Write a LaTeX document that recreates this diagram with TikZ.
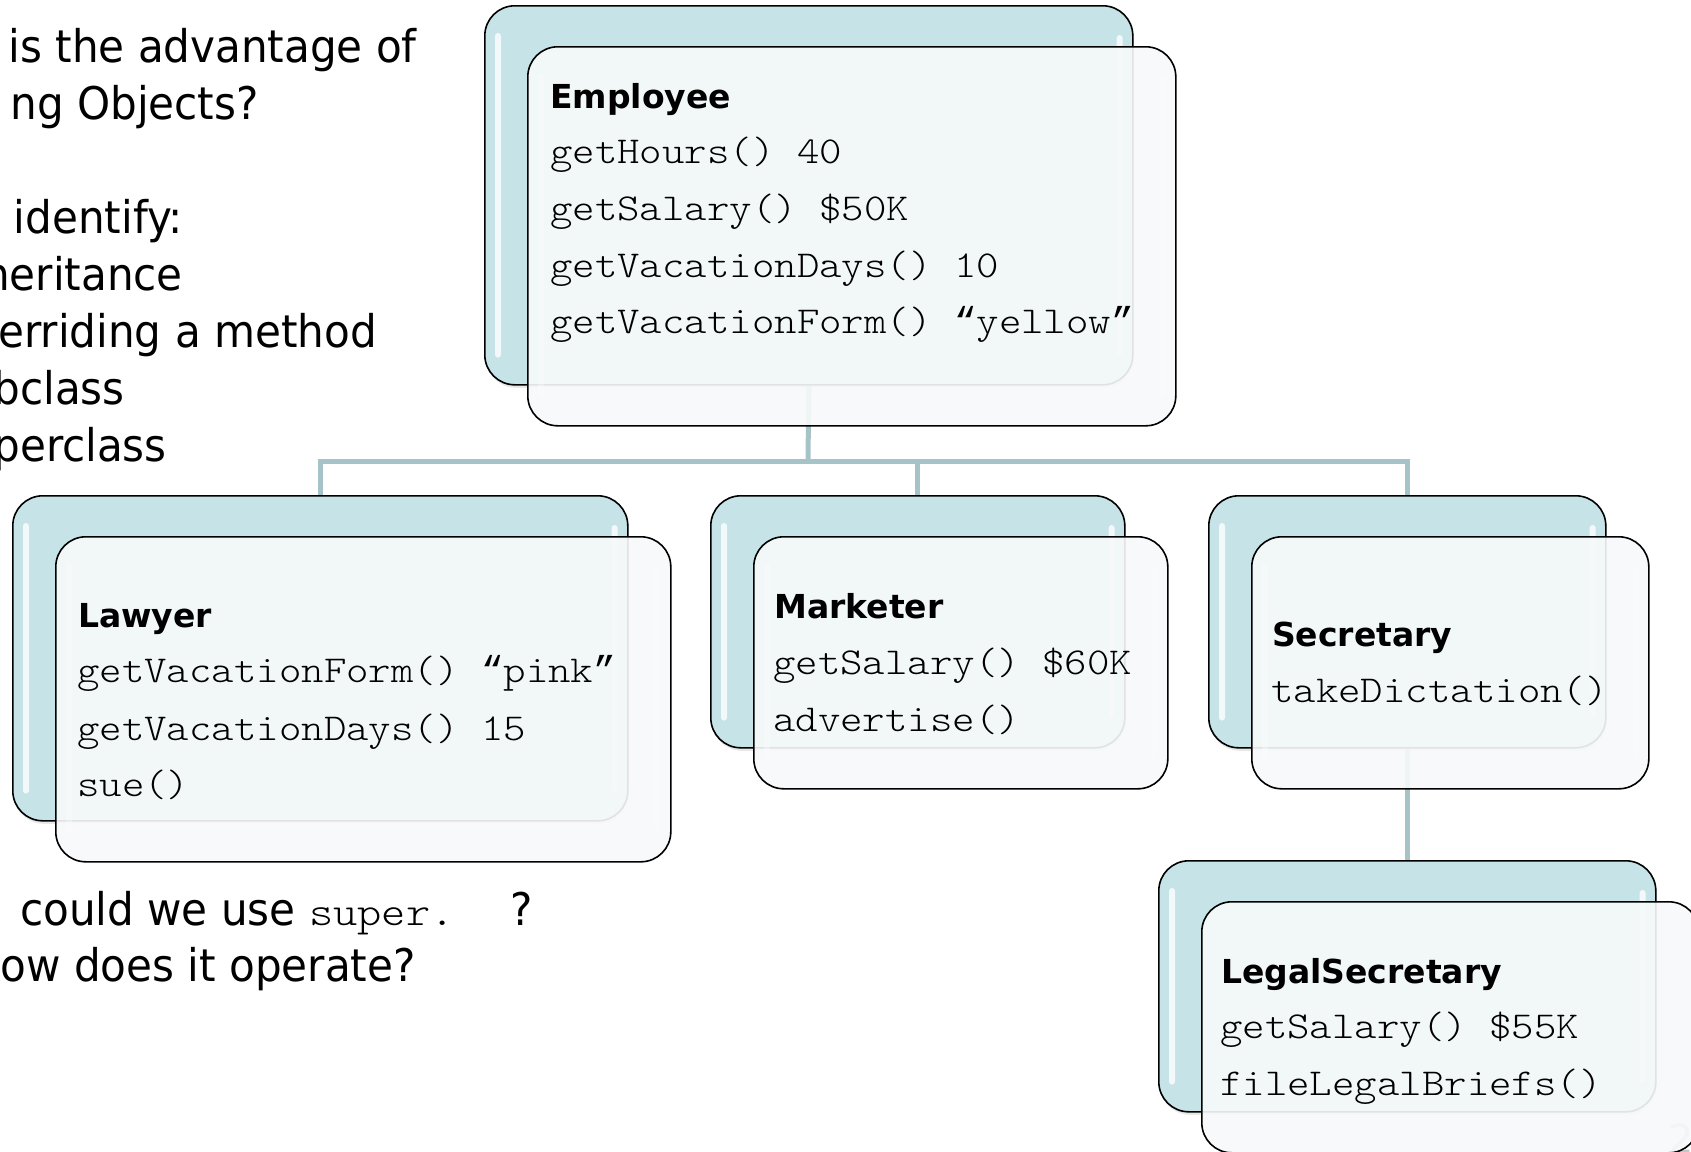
\documentclass[tikz,border=0pt]{standalone}
\usepackage{fontspec}
\setmainfont{DejaVu Sans}
\newfontfamily\slidefont[FakeStretch=1.04]{DejaVu Sans Condensed}
\newfontfamily\codefont[FakeStretch=1.125]{Latin Modern Mono Light}
\newfontfamily\quotefont{Liberation Mono}
\usetikzlibrary{shadows}

\definecolor{backfill}{HTML}{C6E4E7}
\definecolor{frontfill}{HTML}{F7F9FA}
\definecolor{linkcol}{HTML}{A6C4C8}

\pgfdeclarelayer{bg}
\pgfsetlayers{bg,main}

% curly quotes in a monospace cell of the same width as the code font
\newcommand\codeopenq{{\fontsize{37.4}{44}\quotefont “}}
\newcommand\codecloseq{{\fontsize{37.4}{44}\quotefont ”}}

\tikzset{
  backbox/.style={draw=black, line width=1.6pt, rounded corners=30pt, fill=backfill,
    anchor=north west, inner sep=0pt,
    drop shadow={shadow xshift=1pt, shadow yshift=-3pt, opacity=0.18}},
  frontbox/.style={draw=black, line width=1.6pt, rounded corners=30pt, fill=frontfill,
    fill opacity=0.91, anchor=north west, inner sep=0pt},
  classtitle/.style={anchor=base west, inner sep=0pt, font=\fontsize{33}{38}\selectfont\bfseries},
  member/.style={anchor=base west, inner sep=0pt, font=\fontsize{38}{44}\codefont},
  slideline/.style={anchor=base east, inner sep=0pt, font=\fontsize{45}{57}\slidefont},
  link/.style={draw=linkcol, line width=5pt},
  gloss/.style={fill=white, opacity=0.8, rounded corners=3pt},
  softgloss/.style={fill=white, opacity=0.3, rounded corners=3pt}
}

% glossy highlight strips just inside the left and right edges of a box
\newcommand\glossstrips[2]{%
  \path[#2] ([xshift=11pt,yshift=-28pt]#1.north west) rectangle ([xshift=17pt,yshift=28pt]#1.south west);
  \path[#2] ([xshift=-17pt,yshift=-30pt]#1.north east) rectangle ([xshift=-11pt,yshift=30pt]#1.south east);}

\begin{document}
\begin{tikzpicture}[x=1pt,y=-1pt]
\useasboundingbox (0,0) rectangle (1691,1151);
\clip (0,0) rectangle (1691,1151);

% ---- question text on the left ----
\node[slideline] (q1) at (417,62) {is the advantage of};
\node[slideline] (q2) at (259,119) {ng Objects?};
\node[slideline] (q3) at (183,233) {identify:};
\node[slideline] (q4) at (183,290) {heritance};
\node[slideline] (q5) at (377,347) {erriding a method};
\node[slideline] (q6) at (125,404) {bclass};
\node[slideline] (q7) at (167,461) {perclass};
\node[slideline] (q8) at (533,925) {could we use {\fontsize{41}{44}\codefont super.}\hspace{56pt}?};
\node[slideline] (q9) at (416,981) {ow does it operate?};

% ---- Employee ----
\node[backbox, minimum width=648pt, minimum height=379pt] (empB) at (484,5) {};
\glossstrips{empB}{gloss}
\node[frontbox, minimum width=648pt, minimum height=379pt] (empF) at (527,46) {};
\glossstrips{empF}{softgloss}
\node[classtitle] (empT) at (550,108) {Employee};
\node[member] (emp1) at (550,163) {getHours() 40};
\node[member] (emp2) at (550,220) {getSalary() \$50K};
\node[member] (emp3) at (550,277) {getVacationDays() 10};
\node[member] (emp4) at (550,333) {getVacationForm() \codeopenq yellow\codecloseq};

% ---- Lawyer ----
\node[backbox, minimum width=615pt, minimum height=325pt] (lawB) at (12,495) {};
\glossstrips{lawB}{gloss}
\node[frontbox, minimum width=615pt, minimum height=325pt] (lawF) at (55,536) {};
\glossstrips{lawF}{softgloss}
\node[classtitle] (lawT) at (78,627) {Lawyer};
\node[member] (law1) at (77,682) {getVacationForm() \codeopenq pink\codecloseq};
\node[member] (law2) at (77,740) {getVacationDays() 15};
\node[member] (law3) at (77,796) {sue()};

% ---- Marketer ----
\node[backbox, minimum width=414pt, minimum height=252pt] (mktB) at (710,495) {};
\glossstrips{mktB}{gloss}
\node[frontbox, minimum width=414pt, minimum height=252pt] (mktF) at (753,536) {};
\glossstrips{mktF}{softgloss}
\node[classtitle] (mktT) at (774,618) {Marketer};
\node[member] (mkt1) at (773,674) {getSalary() \$60K};
\node[member] (mkt2) at (773,731) {advertise()};

% ---- Secretary ----
\node[backbox, minimum width=397pt, minimum height=252pt] (secB) at (1208,495) {};
\glossstrips{secB}{gloss}
\node[frontbox, minimum width=397pt, minimum height=252pt] (secF) at (1251,536) {};
\glossstrips{secF}{softgloss}
\node[classtitle] (secT) at (1272,646) {Secretary};
\node[member] (sec1) at (1271,702) {takeDictation()};

% ---- LegalSecretary ----
\node[backbox, minimum width=497pt, minimum height=251pt] (legB) at (1158,860) {};
\glossstrips{legB}{gloss}
\node[text=gray!45, anchor=north west, inner sep=0pt, font=\fontsize{40}{40}\selectfont] (pgno) at (1668,1124) {2};
\node[frontbox, minimum width=497pt, minimum height=251pt] (legF) at (1201,901) {};
\node[classtitle] (legT) at (1221,983) {LegalSecretary};
\node[member] (leg1) at (1220,1038) {getSalary() \$55K};
\node[member] (leg2) at (1220,1095) {fileLegalBriefs()};

% ---- inheritance connectors, kept beneath the boxes ----
\coordinate (hub) at (808,461);
\begin{pgfonlayer}{bg}
  \fill[white] (0,0) rectangle (1691,1151);
  \draw[link] (empB.south) -- (hub);
  \draw[link] (hub) -| (lawB.north);
  \draw[link] (hub) -| (mktB.north);
  \draw[link] (hub) -| (secB.north);
  \draw[link] (secB.south) -- (legB.north);
\end{pgfonlayer}
\end{tikzpicture}
\end{document}
